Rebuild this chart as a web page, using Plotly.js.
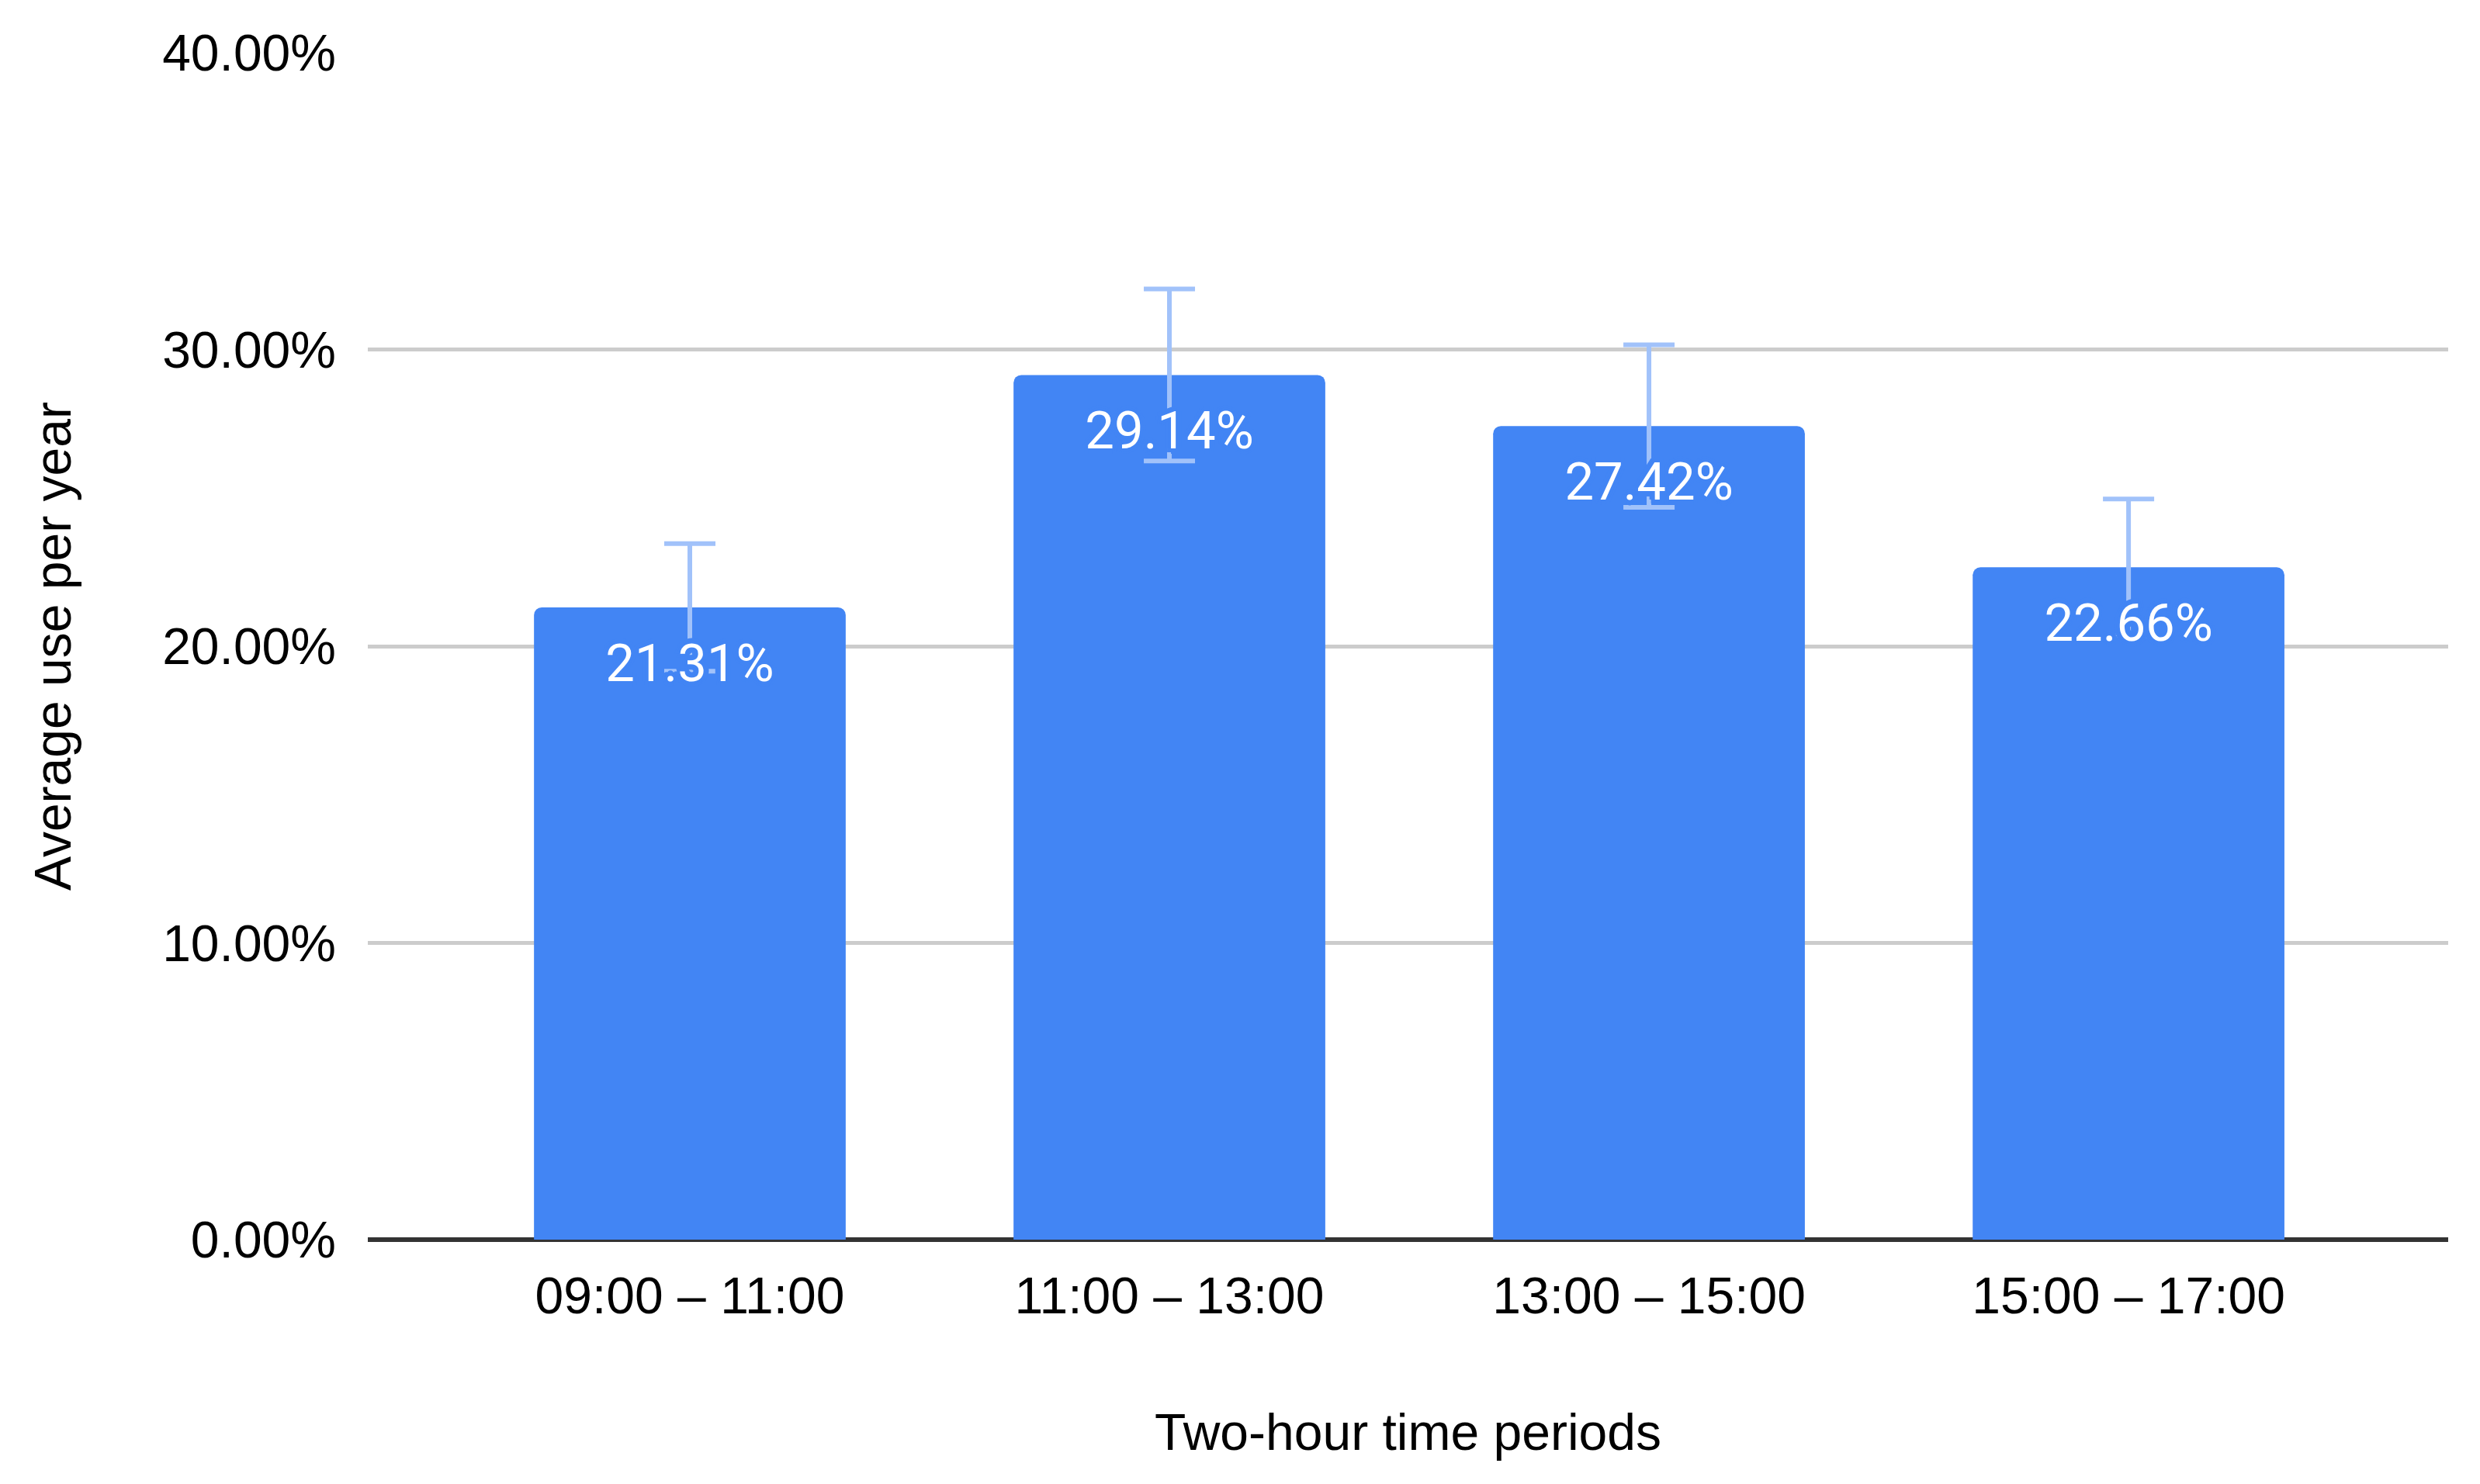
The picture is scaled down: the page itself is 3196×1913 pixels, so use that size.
<!DOCTYPE html>
<html>
<head>
<meta charset="utf-8">
<script src="https://cdn.plot.ly/plotly-3.0.1.min.js"></script>
<style>html,body{margin:0;padding:0;background:#fff}#chart{width:3196px;height:1913px}</style>
</head>
<body>
<div id="chart"></div>
<script>
const categories = ["09:00 – 11:00", "11:00 – 13:00", "13:00 – 15:00", "15:00 – 17:00"];
const values = [21.31, 29.14, 27.42, 22.66];
const errors = [2.15, 2.9, 2.74, 2.3];
const labels = ["21.31%", "29.14%", "27.42%", "22.66%"];
const yTickVals = [0, 10, 20, 30, 40];
const yTickText = ["0.00%", "10.00%", "20.00%", "30.00%", "40.00%"];

const halo = "#4285F4";
const haloShadow = [
  "4px 0 0 " + halo, "-4px 0 0 " + halo, "0 4px 0 " + halo, "0 -4px 0 " + halo,
  "3px 3px 0 " + halo, "-3px 3px 0 " + halo, "3px -3px 0 " + halo, "-3px -3px 0 " + halo,
  "7px 0 0 " + halo, "-7px 0 0 " + halo, "0 7px 0 " + halo, "0 -7px 0 " + halo,
  "5px 5px 0 " + halo, "-5px 5px 0 " + halo, "5px -5px 0 " + halo, "-5px -5px 0 " + halo
].join(", ");

const barTrace = {
  type: "bar",
  x: categories,
  y: values,
  marker: {color: "#4285F4"},
  error_y: {type: "data", array: errors, visible: true, color: "#A1C2FA", thickness: 6, width: 33},
  hoverinfo: "skip",
  showlegend: false
};
const labelTrace = {
  type: "scatter",
  mode: "markers+text",
  x: categories,
  y: values,
  text: labels,
  textposition: "bottom center",
  marker: {size: 70, opacity: 0, color: "#4285F4"},
  textfont: {family: "Roboto", size: 67, color: "#ffffff", shadow: haloShadow},
  hoverinfo: "skip",
  showlegend: false,
  cliponaxis: false
};

const layout = {
  width: 3196, height: 1913,
  margin: {l: 474, r: 41, t: 68, b: 315},
  paper_bgcolor: "#ffffff", plot_bgcolor: "#ffffff",
  font: {family: "Liberation Sans, Arial, sans-serif", color: "#000000", size: 66},
  bargap: 0.35,
  barcornerradius: 10,
  xaxis: {
    type: "category",
    range: [-0.6715, 3.6665],
    showgrid: false, zeroline: false, showline: false,
    ticks: "", ticklabelstandoff: 28,
    tickfont: {size: 66, color: "#000"},
    title: {text: "Two-hour time periods", font: {size: 66, color: "#000"}, standoff: 116}
  },
  yaxis: {
    range: [0, 40],
    tickmode: "array",
    tickvals: yTickVals,
    ticktext: yTickText,
    showgrid: true, gridcolor: "#cccccc", gridwidth: 5,
    zeroline: true, zerolinecolor: "#333333", zerolinewidth: 6,
    showline: false, ticks: "", ticklabelstandoff: 40,
    tickfont: {size: 66, color: "#000"},
    title: {text: "Average use per year", font: {size: 66, color: "#000"}, standoff: 96}
  }
};

Plotly.newPlot("chart", [barTrace, labelTrace], layout, {displayModeBar: false, staticPlot: true});
</script>
</body>
</html>
